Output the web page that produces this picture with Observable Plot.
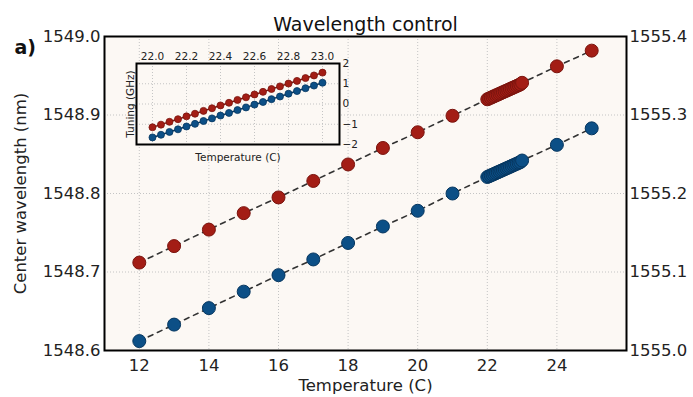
<!DOCTYPE html>
<html>
<head>
<meta charset="utf-8">
<script src="https://cdn.jsdelivr.net/npm/d3@7"></script>
<script src="https://cdn.jsdelivr.net/npm/@observablehq/plot@0.6"></script>
<style>
  html, body { margin: 0; padding: 0; background: #ffffff; }
  #wrap { position: relative; width: 693px; height: 397px; font-family: "DejaVu Sans", sans-serif; }
  #inset { position: absolute; left: 100px; top: 38px; }
  #wrap svg { font-family: "DejaVu Sans", sans-serif; }
</style>
</head>
<body>
<div id="wrap"><div id="main"></div><div id="inset"></div></div>
<script>
// ---- data ----
const coarseTemps = [12, 13, 14, 15, 16, 17, 18, 19, 20, 21, 24, 25];
const redCoarseNm = [1548.712, 1548.733, 1548.754, 1548.775, 1548.795, 1548.816, 1548.837, 1548.858, 1548.878, 1548.899, 1548.962, 1548.982];
// blue laser read on the right axis (nm)
const blueCoarseNm = [1555.012, 1555.033, 1555.054, 1555.075, 1555.096, 1555.116, 1555.137, 1555.158, 1555.178, 1555.200, 1555.262, 1555.283];

const fineTemps = [22.00, 22.05, 22.10, 22.15, 22.20, 22.25, 22.30, 22.35, 22.40, 22.45, 22.50, 22.55, 22.60, 22.65, 22.70, 22.75, 22.80, 22.85, 22.90, 22.95, 23.00];
const redFineNm = [1548.920, 1548.921, 1548.922, 1548.923, 1548.924, 1548.925, 1548.926, 1548.927, 1548.928, 1548.929, 1548.930, 1548.931, 1548.932, 1548.933, 1548.934, 1548.935, 1548.936, 1548.937, 1548.938, 1548.939, 1548.941];
const blueFineNm = [1555.221, 1555.222, 1555.223, 1555.224, 1555.225, 1555.226, 1555.227, 1555.228, 1555.229, 1555.230, 1555.231, 1555.232, 1555.233, 1555.234, 1555.235, 1555.236, 1555.237, 1555.238, 1555.239, 1555.240, 1555.242];
const redTuningGHz = [-1.15, -1.02, -0.88, -0.75, -0.61, -0.48, -0.34, -0.21, -0.07, 0.06, 0.20, 0.33, 0.47, 0.60, 0.74, 0.87, 1.01, 1.14, 1.28, 1.41, 1.55];
const blueTuningGHz = [-1.65, -1.52, -1.38, -1.25, -1.11, -0.98, -0.84, -0.71, -0.57, -0.44, -0.30, -0.17, -0.03, 0.10, 0.24, 0.37, 0.51, 0.64, 0.78, 0.91, 1.05];

const xTicks = [12, 14, 16, 18, 20, 22, 24];
const leftTicks = [1548.6, 1548.7, 1548.8, 1548.9, 1549.0];
const rightTicks = [1555.0, 1555.1, 1555.2, 1555.3, 1555.4];
const insetXTicks = [22.0, 22.2, 22.4, 22.6, 22.8, 23.0];
const insetYTicks = [-2, -1, 0, 1, 2];

const titleText = "Wavelength control";
const panelLabel = "a)";
const xLabel = "Temperature (C)";
const yLabel = "Center wavelength (nm)";
const insetYLabel = "Tuning (GHz)";

// ---- derived tables ----
const axisOffset = rightTicks[0] - leftTicks[0]; // right axis = left axis + offset
const red = d3.sort(
  coarseTemps.map((t, i) => ({t, v: redCoarseNm[i]})).concat(fineTemps.map((t, i) => ({t, v: redFineNm[i]}))),
  d => d.t);
const blue = d3.sort(
  coarseTemps.map((t, i) => ({t, v: blueCoarseNm[i] - axisOffset})).concat(fineTemps.map((t, i) => ({t, v: blueFineNm[i] - axisOffset}))),
  d => d.t);
const redIn = fineTemps.map((t, i) => ({t, v: redTuningGHz[i]}));
const blueIn = fineTemps.map((t, i) => ({t, v: blueTuningGHz[i]}));

const redFill = "#a31d15", redStroke = "#7a140e";
const blueFill = "#0c4f86", blueStroke = "#06365f";
const bg = "#fcf8f4";
const gridStyle = {stroke: "#c4c4c4", strokeOpacity: 1, strokeWidth: 1, strokeDasharray: "1,2"};

const main = Plot.plot({
  width: 693, height: 397,
  marginLeft: 104, marginRight: 67, marginTop: 36, marginBottom: 47,
  style: {fontSize: "16px", fontFamily: "DejaVu Sans, sans-serif", color: "#222", background: "transparent"},
  x: {domain: [11, 26]},
  y: {domain: [1548.6, 1549.0]},
  marks: [
    Plot.frame({fill: bg, stroke: "none"}),
    Plot.gridX(xTicks, gridStyle),
    Plot.gridY(leftTicks, gridStyle),
    Plot.line(red, {x: "t", y: "v", stroke: "#333", strokeWidth: 1.6, strokeDasharray: "5,5"}),
    Plot.line(blue, {x: "t", y: "v", stroke: "#333", strokeWidth: 1.6, strokeDasharray: "5,5"}),
    Plot.dot(red, {x: "t", y: "v", r: 6.5, fill: redFill, stroke: redStroke, strokeWidth: 1}),
    Plot.dot(blue, {x: "t", y: "v", r: 6.5, fill: blueFill, stroke: blueStroke, strokeWidth: 1}),
    Plot.axisX(xTicks, {tickSize: 0, tickPadding: 9, fontSize: 16.5, label: xLabel, labelAnchor: "center", labelOffset: 40, labelArrow: "none"}),
    Plot.axisY(leftTicks, {anchor: "left", tickSize: 0, tickPadding: 4, fontSize: 16.5, tickFormat: d => d.toFixed(1),
      label: yLabel, labelAnchor: "center", labelOffset: 90, labelArrow: "none"}),
    Plot.axisY(leftTicks, {anchor: "right", tickSize: 0, tickPadding: 3, fontSize: 16.5,
      tickFormat: (d, i) => rightTicks[i].toFixed(1), label: null}),
    Plot.frame({stroke: "#000", strokeWidth: 2}),
    Plot.text([titleText], {frameAnchor: "top", dy: -19, fontSize: 19, fill: "#111"}),
    Plot.text([panelLabel], {frameAnchor: "top-left", dx: -90, dy: 4, fontSize: 19, fontWeight: "bold", fill: "#111"})
  ]
});
document.getElementById("main").appendChild(main);

const inset = Plot.plot({
  width: 260, height: 125,
  marginLeft: 36, marginRight: 21, marginTop: 25, marginBottom: 19,
  style: {fontSize: "10.5px", fontFamily: "DejaVu Sans, sans-serif", color: "#222", background: "transparent"},
  x: {domain: [21.906, 23.1]},
  y: {domain: [-2, 2]},
  marks: [
    Plot.frame({fill: bg, stroke: "none"}),
    Plot.gridX(insetXTicks, gridStyle),
    Plot.gridY(insetYTicks, gridStyle),
    Plot.line(redIn, {x: "t", y: "v", stroke: redStroke, strokeWidth: 1.5}),
    Plot.line(blueIn, {x: "t", y: "v", stroke: blueStroke, strokeWidth: 1.5}),
    Plot.dot(redIn, {x: "t", y: "v", r: 3.5, fill: redFill, stroke: redStroke, strokeWidth: 0.8}),
    Plot.dot(blueIn, {x: "t", y: "v", r: 3.5, fill: blueFill, stroke: blueStroke, strokeWidth: 0.8}),
    Plot.axisX(insetXTicks, {anchor: "top", tickSize: 0, tickPadding: 4, fontSize: 10.5, tickFormat: d => d.toFixed(1), label: null}),
    Plot.axisX(insetXTicks, {anchor: "bottom", tickSize: 0, tickFormat: () => "", label: xLabel, labelAnchor: "center", labelOffset: 16, labelArrow: "none"}),
    Plot.axisY(insetYTicks, {anchor: "right", tickSize: 0, tickPadding: 3, fontSize: 10.5, tickFormat: d => d < 0 ? "\u2212" + Math.abs(d) : String(d), label: null}),
    Plot.axisY(insetYTicks, {anchor: "left", tickSize: 0, tickFormat: () => "", label: insetYLabel, labelAnchor: "center", labelOffset: 10, labelArrow: "none"}),
    Plot.frame({stroke: "#000", strokeWidth: 2})
  ]
});
document.getElementById("inset").appendChild(inset);
</script>
</body>
</html>
